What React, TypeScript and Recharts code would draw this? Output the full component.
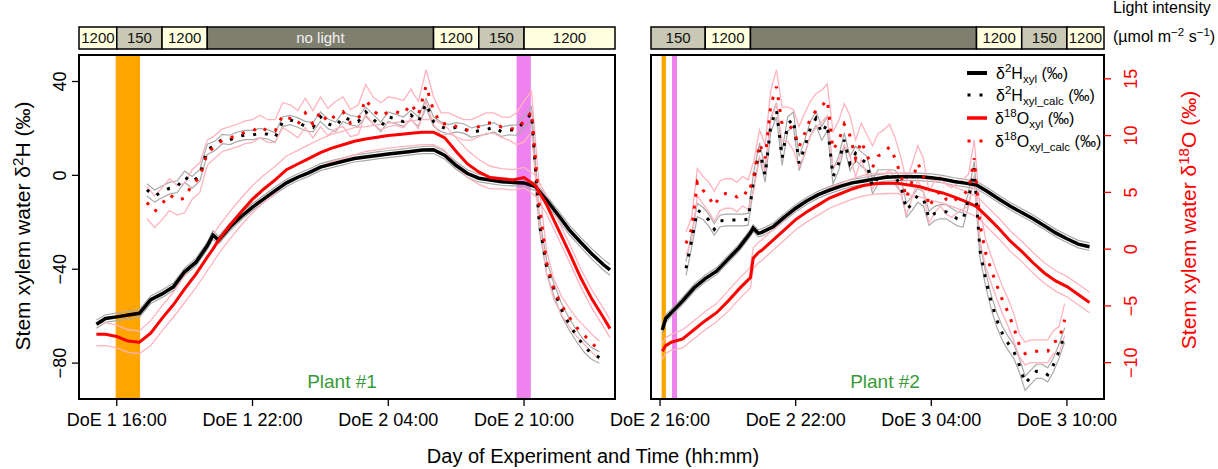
import React from 'react';
import { ComposedChart, Line, Area, XAxis, YAxis, ReferenceArea } from 'recharts';

const FONT = '"Liberation Sans", Arial, sans-serif';

// ---- Plant #1 : hours since DoE 1 00:00 ----
const p1Time = [15.1, 15.5, 16, 16.5, 17, 17.5, 18, 18.5, 19, 19.5, 20, 20.25, 20.5, 21, 21.5, 22, 22.5, 23, 23.5, 24, 24.5, 25, 25.5, 26, 26.5, 27, 27.5, 28, 28.5, 29, 29.5, 30, 30.5, 31, 31.5, 32, 32.5, 33, 33.5, 34, 34.5, 35, 35.5, 36, 36.5, 37, 37.5, 37.8];
const p1H = [-63.4, -61, -60.3, -59.5, -58.8, -53, -50.5, -47.5, -41.1, -37, -30, -25.4, -27.6, -22, -17.5, -13.5, -10, -6.5, -3.2, -0.8, 1.2, 3.5, 4.8, 6, 7.2, 7.8, 8.5, 9.1, 9.6, 10.2, 10.8, 10.9, 8.5, 4.2, 0.8, -1.2, -2, -2.7, -3, -3.2, -4.8, -10.5, -16.8, -23.2, -28.5, -33.5, -38, -40.3];
const p1HSd = [1.8, 1.6, 1.6, 1.6, 1.6, 1.6, 1.6, 1.6, 1.6, 1.6, 1.6, 1.8, 1.6, 1.6, 1.5, 1.5, 1.5, 1.5, 1.5, 1.5, 1.5, 1.5, 1.5, 1.5, 1.5, 1.5, 1.5, 1.5, 1.5, 1.5, 1.5, 1.6, 1.6, 1.6, 1.6, 1.6, 1.5, 1.5, 1.5, 1.5, 1.7, 1.8, 1.9, 2.0, 2.1, 2.2, 2.3, 2.3];
const p1O = [-7.5, -7.5, -7.7, -8.1, -8.2, -7.4, -6.1, -4.9, -3.5, -2.2, -0.7, 0, 0.8, 2.1, 3.3, 4.4, 5.3, 6.1, 7, 7.5, 8, 8.5, 8.9, 9.2, 9.5, 9.7, 9.85, 10, 10.1, 10.2, 10.3, 10.3, 9.8, 8.6, 7.5, 6.8, 6.3, 6.2, 6.1, 6.3, 5.6, 3.9, 1.8, -0.3, -2.5, -4.4, -6, -7];
const p1OSd = [1.0, 1.0, 1.0, 1.0, 1.0, 1.1, 1.1, 1.1, 1.2, 1.2, 1.2, 1.2, 1.2, 1.2, 1.2, 1.2, 1.2, 1.2, 1.2, 1.2, 1.2, 1.2, 1.2, 1.2, 1.2, 1.1, 1.1, 1.1, 1.1, 1.1, 1.1, 1.1, 1.1, 1.2, 1.2, 1.1, 1.0, 0.9, 0.9, 0.9, 0.9, 0.8, 0.8, 0.8, 0.8, 0.8, 0.8, 0.8];

const p1CalcTime = [17.33, 17.67, 18, 18.33, 18.67, 19, 19.33, 19.67, 20, 20.33, 20.67, 21, 21.33, 21.67, 22, 22.33, 22.67, 23, 23.33, 23.67, 24, 24.33, 24.67, 25, 25.33, 25.67, 26, 26.33, 26.67, 27, 27.33, 27.67, 28, 28.33, 28.67, 29, 29.33, 29.67, 30, 30.33, 30.67, 31, 31.33, 31.67, 32, 32.33, 32.67, 33, 33.33, 33.67, 34, 34.33, 34.67, 35, 35.33, 35.67, 36, 36.33, 36.67, 37, 37.33];
const p1HCalc = [-6.2, -8.8, -7, -5.5, -4.8, -0.6, -3, 0, 11.1, 12.5, 15.5, 15.1, 16.5, 17.2, 17.2, 18, 17.5, 16.2, 22.9, 23.6, 22.5, 21, 20.5, 25, 22, 20.7, 25, 23.5, 22.9, 27.1, 24, 20.7, 25, 24, 22.9, 25.7, 22.9, 30.7, 22.9, 20.7, 19.6, 20.5, 20, 18.2, 19, 19.5, 20.5, 18.6, 19.3, 19.3, 22.9, 26.4, -20, -39, -49, -57.5, -63.5, -68.5, -73, -76, -77.6];
const p1HCalcSd = [2.6, 2.6, 2.5, 2.5, 2.5, 2.4, 2.5, 2.5, 2.2, 2.0, 2.0, 2.0, 2.0, 2.0, 2.0, 2.0, 2.0, 2.0, 2.0, 2.0, 2.0, 2.0, 2.0, 2.0, 2.0, 2.0, 2.0, 2.0, 2.0, 2.0, 2.0, 2.0, 2.0, 2.0, 2.0, 2.0, 2.0, 2.0, 2.0, 2.0, 2.0, 2.0, 2.0, 2.0, 2.0, 2.0, 2.0, 2.0, 2.0, 2.2, 2.5, 2.8, 3.0, 2.8, 2.6, 2.6, 2.5, 2.5, 2.5, 2.5, 2.5];
const p1OCalc = [4.1, 3.3, 4, 4.8, 4.3, 4.5, 5.7, 6.3, 8.5, 9, 9.6, 9.8, 10, 10.3, 10.4, 10.8, 10.4, 10.4, 11.8, 11.5, 11, 12, 11, 12.1, 11.2, 11.8, 12.1, 11.1, 11.4, 13.2, 12.2, 11.7, 12.1, 12.1, 11.9, 12.8, 11.8, 14.4, 12.2, 11, 11.1, 10.8, 10.5, 10.5, 10.8, 11.1, 11.1, 10.75, 10.6, 10.6, 11.25, 12.1, 4, -1.2, -3.6, -5, -6, -6.9, -7.6, -8.3, -8.9];
const p1OCalcSd = [1.4, 1.4, 1.4, 1.4, 1.3, 1.3, 1.3, 1.3, 1.1, 1.0, 1.0, 1.0, 1.0, 1.0, 1.0, 1.0, 1.0, 1.0, 1.1, 1.2, 1.2, 1.3, 1.2, 1.3, 1.2, 1.2, 1.3, 1.2, 1.3, 1.3, 1.2, 1.2, 1.3, 1.2, 1.2, 1.3, 1.2, 1.4, 1.2, 1.0, 0.9, 0.9, 0.9, 0.9, 0.9, 0.9, 0.9, 0.9, 1.0, 1.4, 1.8, 1.8, 1.5, 1.0, 0.9, 0.8, 0.8, 0.8, 0.8, 0.8, 0.8];

// ---- Plant #2 ----
const p2Time = [40.1, 40.25, 40.5, 41, 41.5, 42, 42.5, 43, 43.5, 44, 44.12, 44.35, 44.5, 45, 45.5, 46, 46.5, 47, 47.5, 48, 48.5, 49, 49.5, 50, 50.5, 51, 51.5, 52, 52.5, 53, 53.5, 54, 54.5, 55, 55.5, 56, 56.5, 57, 57.5, 58, 58.5, 59];
const p2H = [-65.9, -61, -58.5, -53.5, -48, -44, -40.8, -35.8, -30.8, -24.5, -22.5, -24.7, -24.3, -21.9, -17.8, -14, -10.8, -8.2, -6.3, -4.6, -3.2, -2.4, -1.5, -0.8, -0.6, -0.6, -0.6, -1, -1.6, -2.6, -3.3, -4.1, -7, -10.2, -13.2, -15.8, -18.5, -21.5, -24.5, -27, -29.3, -30.4];
const p2HSd = [1.6, 1.6, 1.5, 1.5, 1.5, 1.5, 1.5, 1.5, 1.5, 1.5, 1.5, 1.5, 1.5, 1.5, 1.5, 1.5, 1.5, 1.5, 1.5, 1.5, 1.5, 1.5, 1.6, 1.6, 1.6, 1.6, 1.6, 1.6, 1.6, 1.6, 1.6, 1.6, 1.6, 1.6, 1.6, 1.6, 1.6, 1.6, 1.6, 1.6, 1.6, 1.6];
const p2O = [-9, -8.5, -8.2, -7.9, -7.1, -6.3, -5.6, -4.6, -3.5, -2.5, -0.8, -0.3, -0.1, 0.8, 1.7, 2.6, 3.3, 3.9, 4.5, 4.9, 5.3, 5.6, 5.75, 5.8, 5.8, 5.65, 5.5, 5.2, 4.95, 4.6, 4.2, 3.75, 2.8, 1.8, 0.7, -0.2, -1.2, -2.1, -2.8, -3.3, -4, -4.7];
const p2OSd = [0.7, 0.7, 0.7, 0.8, 0.8, 0.8, 0.8, 0.9, 0.9, 0.9, 0.9, 0.9, 0.9, 0.9, 0.9, 0.9, 0.9, 0.9, 0.9, 0.9, 0.9, 0.9, 0.9, 0.9, 0.9, 0.9, 0.9, 0.9, 0.9, 0.9, 0.9, 0.9, 0.9, 0.9, 0.9, 0.9, 0.9, 0.9, 0.9, 0.9, 0.9, 0.9];

const p2CalcTime = [41.15, 41.4, 41.65, 41.9, 42.15, 42.4, 42.65, 42.9, 43.15, 43.4, 43.65, 43.9, 44.15, 44.4, 44.65, 44.9, 45.15, 45.4, 45.65, 45.9, 46.15, 46.4, 46.65, 46.9, 47.15, 47.4, 47.65, 47.9, 48.15, 48.4, 48.65, 48.9, 49.15, 49.4, 49.65, 49.9, 50.15, 50.4, 50.65, 50.9, 51.15, 51.4, 51.65, 51.9, 52.15, 52.4, 52.65, 52.9, 53.15, 53.4, 53.65, 53.9, 54.15, 54.4, 54.65, 54.9, 55.15, 55.4, 55.65, 55.9, 56.15, 56.4, 56.65, 56.9, 57.15, 57.4, 57.65, 57.9];
const p2HCalc = [-39.6, -27.6, -14.8, -16.2, -19, -23, -19.5, -19, -19, -19, -19, -18.7, -1.3, 10.8, 0, 21.5, 27.9, 7.3, 22, 24, 5.1, 12, 20, 24.3, 17.9, 22, -0.6, 5, 15.1, 5, 9.4, 7, 5.1, -4.8, -0.6, -0.6, -0.6, -0.8, -4, -14.8, -12, -8.5, -10, -18.3, -16.2, -15.5, -15.5, -17, -18.5, -19, -10, 3, -32, -44, -54, -61.7, -67.5, -71.6, -75, -81, -88.6, -86, -83.5, -83.5, -85, -80.8, -75, -68];
const p2HCalcSd = [3.0, 3.0, 2.8, 2.6, 2.5, 2.5, 2.5, 2.5, 2.5, 2.5, 2.5, 2.5, 3.0, 3.0, 3.0, 3.0, 3.0, 3.0, 3.0, 3.0, 3.0, 3.0, 3.0, 3.0, 3.0, 3.0, 3.0, 3.0, 3.0, 3.0, 3.0, 3.0, 3.0, 3.0, 3.0, 3.0, 3.0, 3.0, 3.0, 3.0, 3.0, 3.0, 3.0, 3.0, 3.0, 3.0, 3.0, 3.0, 3.0, 3.0, 3.0, 3.0, 3.0, 3.0, 3.0, 3.0, 3.0, 3.0, 3.0, 3.0, 3.0, 3.0, 3.0, 3.0, 3.0, 3.0, 3.0, 3.0];
const p2OCalc = [0.5, 1.8, 5.9, 5.2, 4.6, 3.8, 4.7, 4.9, 4.9, 4.6, 5.1, 4.8, 6.5, 9.3, 8, 12.7, 14.3, 11, 11, 10.5, 9, 10.2, 11.5, 12.2, 12.6, 13.15, 8.75, 9.5, 11, 10, 8, 9.5, 8.3, 7.2, 8.2, 8.5, 9, 8, 6.5, 4.5, 6, 7.6, 6.5, 3.7, 4.6, 5.1, 4.4, 4.1, 4.5, 4.8, 5.2, 8, 2.2, -0.3, -1.8, -3.2, -4.5, -5.6, -6.9, -8.5, -9.2, -9, -9, -9, -9, -8.2, -8, -6.2];
const p2OCalcSd = [1.0, 1.0, 1.2, 1.2, 1.3, 1.3, 1.3, 1.3, 1.3, 1.3, 1.3, 1.3, 1.3, 1.2, 1.2, 1.3, 1.5, 1.5, 1.5, 1.8, 1.8, 1.8, 1.5, 1.5, 1.4, 1.4, 1.6, 1.8, 1.8, 1.8, 1.6, 1.6, 1.8, 1.9, 2.0, 2.0, 2.0, 1.8, 1.6, 1.5, 1.5, 1.5, 1.5, 1.4, 1.4, 1.3, 1.3, 1.3, 1.3, 1.3, 1.4, 1.6, 1.4, 1.2, 1.2, 1.2, 1.2, 1.2, 1.2, 1.0, 1.0, 1.0, 1.0, 1.0, 1.0, 1.0, 1.2, 1.4];

// light regime (µmol m-2 s-1), 0 = no light
const p1LightStart = [14.33, 16, 18, 20, 30, 32, 34];
const p1LightEnd = [16, 18, 20, 30, 32, 34, 38.02];
const p1LightLevel = [1200, 150, 1200, 0, 1200, 150, 1200];
const p1LightText = ['1200', '150', '1200', 'no light', '1200', '150', '1200'];
const p2LightStart = [39.6, 42, 44, 54, 56, 58];
const p2LightEnd = [42, 44, 54, 56, 58, 59.64];
const p2LightLevel = [150, 1200, 0, 1200, 150, 1200];
const p2LightText = ['150', '1200', '', '1200', '150', '1200'];

// sampling windows (orange / violet)
const p1StripeStart = [15.95, 33.67];
const p1StripeEnd = [17.03, 34.3];
const p2StripeStart = [40.07, 40.53];
const p2StripeEnd = [40.26, 40.75];
const stripeColors = ['#FFA500', '#EE82EE'];

const p1Ticks = [16, 22, 28, 34];
const p2Ticks = [40, 46, 52, 58];
const hTicks1 = [40, 0, -40, -80];
const hTicks2 = [40, 20, 0, -20, -40, -60, -80];
const oTicks = [15, 10, 5, 0, -5, -10];

const H_DOMAIN: [number, number] = [-95.3, 51.3];
const O_DOMAIN: [number, number] = [-13.2, 17.1];
const P1_X: [number, number] = [14.33, 38.02];
const P2_X: [number, number] = [39.6, 59.64];

const rows = (t: number[], v: number[], sd: number[]) =>
  t.map((x, i) => ({ t: x, v: v[i], lo: v[i] - sd[i], hi: v[i] + sd[i] }));

const doeLabel = (h: number) => {
  const day = Math.floor(h / 24) + 1;
  const hh = Math.round(h - (day - 1) * 24);
  return `DoE ${day} ${String(hh).padStart(2, '0')}:00`;
};

const lightFill = (lvl: number) => (lvl === 1200 ? '#FFFFE0' : lvl === 150 ? '#C8C8B4' : '#7F7F70');

// y tick labels in R style: rotated, parallel to the axis
const RotTick = (p: any) => {
  const bx = p.x + p.sh;
  const label = String(p.payload.value).replace('-', '\u2212');
  return (
    <text x={bx} y={p.y} transform={`rotate(-90 ${bx} ${p.y})`} textAnchor="middle" fill={p.tc} fontSize={18} fontFamily={FONT}>
      {label}
    </text>
  );
};

const GRAY = '#a9a9a9';
const PINK = '#ffb3bf';

function LightBar({ left, width, ml, mr, xDomain, starts, ends, levels, texts }: any) {
  return (
    <div style={{ position: 'absolute', left, top: 0 }}>
      <ComposedChart width={width} height={60} margin={{ top: 27, right: mr, bottom: 11, left: ml }} data={starts.map((t: number) => ({ t }))}>
        <XAxis type="number" dataKey="t" domain={xDomain} allowDataOverflow hide />
        <YAxis type="number" domain={[0, 1]} allowDataOverflow hide />
        {starts.map((s: number, i: number) => (
          <ReferenceArea
            key={i}
            x1={s}
            x2={ends[i]}
            y1={0}
            y2={1}
            fill={lightFill(levels[i])}
            fillOpacity={1}
            stroke="#000"
            strokeWidth={1.5}
            label={{ value: texts[i], position: 'center', fill: levels[i] === 0 ? '#f2f2f2' : '#111', fontSize: 15, fontFamily: FONT }}
          />
        ))}
      </ComposedChart>
    </div>
  );
}

function IsoPanel({ left, width, ml, mr, rw, xDomain, xTicks, hTicks, showH, showO, hMain, oMain, hCalc, oCalc, sStart, sEnd }: any) {
  return (
    <div style={{ position: 'absolute', left, top: 0 }}>
      <ComposedChart width={width} height={469} margin={{ top: 55, right: mr, bottom: 20, left: ml }}>
        <XAxis
          type="number"
          dataKey="t"
          domain={xDomain}
          allowDataOverflow
          ticks={xTicks}
          interval={0}
          tickFormatter={doeLabel}
          axisLine={false}
          tickLine={{ stroke: '#000', strokeWidth: 1.3 }}
          tickSize={7}
          tickMargin={7}
          tick={{ fontSize: 18, fill: '#000', fontFamily: FONT }}
          height={50}
        />
        <YAxis
          yAxisId="h"
          type="number"
          domain={H_DOMAIN}
          allowDataOverflow
          ticks={hTicks}
          interval={0}
          width={40}
          axisLine={false}
          tickLine={{ stroke: '#000', strokeWidth: 1.3 }}
          tickSize={7}
          tickMargin={2}
          tick={showH ? <RotTick tc="#000" sh={-4} /> : false}
        />
        <YAxis
          yAxisId="o"
          orientation="right"
          type="number"
          domain={O_DOMAIN}
          allowDataOverflow
          ticks={oTicks}
          interval={0}
          width={rw}
          axisLine={false}
          tickLine={{ stroke: '#f00', strokeWidth: 1.3 }}
          tickSize={7}
          tickMargin={2}
          tick={showO ? <RotTick tc="#f00" sh={24} /> : false}
        />
        {/* sampling stripes as full-height areas, under the series */}
        {sStart.map((s: number, i: number) => (
          <Area
            key={`s${i}`}
            data={[{ t: s, top: H_DOMAIN[1] }, { t: sEnd[i], top: H_DOMAIN[1] }]}
            yAxisId="h"
            dataKey="top"
            baseValue={H_DOMAIN[0]}
            type="linear"
            stroke="none"
            fill={stripeColors[i]}
            fillOpacity={1}
            dot={false}
            activeDot={false}
            isAnimationActive={false}
          />
        ))}
        <Line data={hMain} yAxisId="h" dataKey="hi" stroke={GRAY} strokeWidth={1.2} dot={false} isAnimationActive={false} />
        <Line data={hMain} yAxisId="h" dataKey="lo" stroke={GRAY} strokeWidth={1.2} dot={false} isAnimationActive={false} />
        <Line data={hCalc} yAxisId="h" dataKey="hi" stroke={GRAY} strokeWidth={1.2} dot={false} isAnimationActive={false} />
        <Line data={hCalc} yAxisId="h" dataKey="lo" stroke={GRAY} strokeWidth={1.2} dot={false} isAnimationActive={false} />
        <Line data={oMain} yAxisId="o" dataKey="hi" stroke={PINK} strokeWidth={1.3} dot={false} isAnimationActive={false} />
        <Line data={oMain} yAxisId="o" dataKey="lo" stroke={PINK} strokeWidth={1.3} dot={false} isAnimationActive={false} />
        <Line data={oCalc} yAxisId="o" dataKey="hi" stroke={PINK} strokeWidth={1.3} dot={false} isAnimationActive={false} />
        <Line data={oCalc} yAxisId="o" dataKey="lo" stroke={PINK} strokeWidth={1.3} dot={false} isAnimationActive={false} />
        <Line data={hMain} yAxisId="h" dataKey="v" stroke="#000" strokeWidth={3.5} dot={false} isAnimationActive={false} />
        <Line data={oMain} yAxisId="o" dataKey="v" stroke="#f00" strokeWidth={3} dot={false} isAnimationActive={false} />
        <Line data={hCalc} yAxisId="h" dataKey="v" stroke="#000" strokeWidth={3} strokeDasharray="3 9" dot={false} isAnimationActive={false} />
        <Line data={oCalc} yAxisId="o" dataKey="v" stroke="#f00" strokeWidth={3} strokeDasharray="3 9" dot={false} isAnimationActive={false} />
        <ReferenceArea yAxisId="h" x1={xDomain[0]} x2={xDomain[1]} y1={H_DOMAIN[0]} y2={H_DOMAIN[1]} fill="none" stroke="#000" strokeWidth={2} />
      </ComposedChart>
    </div>
  );
}

const Sup = ({ children }: any) => <tspan fontSize="0.72em" dy={-7}>{children}</tspan>;

export default function App() {
  return (
    <div style={{ position: 'absolute', left: 0, top: 0, width: 1218, height: 469, background: '#fff', fontFamily: FONT }}>
      <LightBar left={0} width={640} ml={79} mr={25} xDomain={P1_X} starts={p1LightStart} ends={p1LightEnd} levels={p1LightLevel} texts={p1LightText} />
      <LightBar left={600} width={618} ml={51} mr={114} xDomain={P2_X} starts={p2LightStart} ends={p2LightEnd} levels={p2LightLevel} texts={p2LightText} />
      <IsoPanel
        left={0}
        width={640}
        ml={39}
        mr={5}
        rw={20}
        xDomain={P1_X}
        xTicks={p1Ticks}
        hTicks={hTicks1}
        showH
        showO={false}
        hMain={rows(p1Time, p1H, p1HSd)}
        oMain={rows(p1Time, p1O, p1OSd)}
        hCalc={rows(p1CalcTime, p1HCalc, p1HCalcSd)}
        oCalc={rows(p1CalcTime, p1OCalc, p1OCalcSd)}
        sStart={p1StripeStart}
        sEnd={p1StripeEnd}
      />
      <IsoPanel
        left={600}
        width={618}
        ml={11}
        mr={64}
        rw={50}
        xDomain={P2_X}
        xTicks={p2Ticks}
        hTicks={hTicks2}
        showH={false}
        showO
        hMain={rows(p2Time, p2H, p2HSd)}
        oMain={rows(p2Time, p2O, p2OSd)}
        hCalc={rows(p2CalcTime, p2HCalc, p2HCalcSd)}
        oCalc={rows(p2CalcTime, p2OCalc, p2OCalcSd)}
        sStart={p2StripeStart}
        sEnd={p2StripeEnd}
      />
      <svg width={1218} height={469} style={{ position: 'absolute', left: 0, top: 0, pointerEvents: 'none' }} fontFamily={FONT}>
        <text x={30} y={226} transform="rotate(-90 30 226)" textAnchor="middle" fontSize={21} fill="#000">
          Stem xylem water δ<Sup>2</Sup><tspan dy={7}>H (‰)</tspan>
        </text>
        <text x={1196} y={220} transform="rotate(-90 1196 220)" textAnchor="middle" fontSize={21} fill="#f00">
          Stem xylem water δ<Sup>18</Sup><tspan dy={7}>O (‰)</tspan>
        </text>
        <text x={593} y={463} textAnchor="middle" fontSize={20} fill="#000">Day of Experiment and Time (hh:mm)</text>
        <text x={342} y={388} textAnchor="middle" fontSize={19} fill="#3a9a3a">Plant #1</text>
        <text x={885} y={388} textAnchor="middle" fontSize={19} fill="#3a9a3a">Plant #2</text>
        <text x={1113} y={13} fontSize={16} fill="#000">Light intensity</text>
        <text x={1113} y={42} fontSize={16} fill="#000">
          (µmol m<tspan fontSize="0.72em" dy={-6}>−2</tspan><tspan dy={6}> s</tspan><tspan fontSize="0.72em" dy={-6}>−1</tspan><tspan dy={6}>)</tspan>
        </text>
        {/* legend */}
        <line x1={967} x2={987} y1={73} y2={73} stroke="#000" strokeWidth={4} />
        <line x1={967.5} x2={985} y1={95} y2={95} stroke="#000" strokeWidth={3} strokeDasharray="3 9" />
        <line x1={967} x2={987} y1={118} y2={118} stroke="#f00" strokeWidth={3.5} />
        <line x1={967.5} x2={985} y1={141} y2={141} stroke="#f00" strokeWidth={3} strokeDasharray="3 9" />
        <text x={996} y={79} fontSize={16} fill="#000">
          δ<Sup>2</Sup><tspan dy={7}>H</tspan><tspan fontSize="0.72em" dy={4}>xyl</tspan><tspan dy={-4}> (‰)</tspan>
        </text>
        <text x={996} y={101} fontSize={16} fill="#000">
          δ<Sup>2</Sup><tspan dy={7}>H</tspan><tspan fontSize="0.72em" dy={4}>xyl_calc</tspan><tspan dy={-4}> (‰)</tspan>
        </text>
        <text x={995} y={124} fontSize={16} fill="#000">
          δ<Sup>18</Sup><tspan dy={7}>O</tspan><tspan fontSize="0.72em" dy={4}>xyl</tspan><tspan dy={-4}> (‰)</tspan>
        </text>
        <text x={995} y={147} fontSize={16} fill="#000">
          δ<Sup>18</Sup><tspan dy={7}>O</tspan><tspan fontSize="0.72em" dy={4}>xyl_calc</tspan><tspan dy={-4}> (‰)</tspan>
        </text>
      </svg>
    </div>
  );
}
